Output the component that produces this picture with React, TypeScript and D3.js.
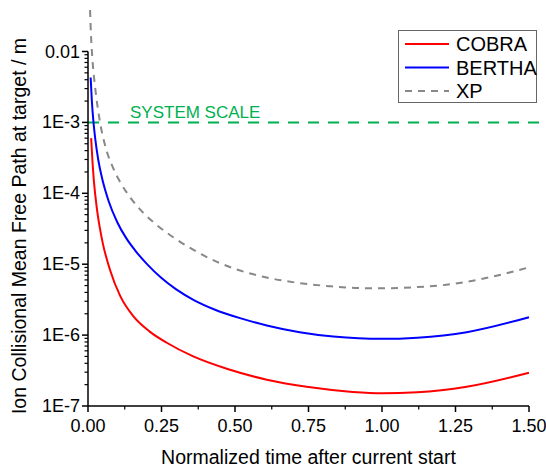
import React from "react";
import * as d3 from "d3";

// ---- data ----
const tCobra = [0.0107, 0.015, 0.02, 0.03, 0.04, 0.05, 0.075, 0.109, 0.154, 0.21, 0.268, 0.358, 0.472, 0.608, 0.75, 0.9, 1.0, 1.12, 1.288, 1.5];
const cobra = [6.0e-4, 2.9e-4, 1.5e-4, 6.2e-5, 3.3e-5, 2.0e-5, 8.3e-6, 3.6e-6, 1.85e-6, 1.12e-6, 7.8e-7, 5.0e-7, 3.35e-7, 2.35e-7, 1.85e-7, 1.58e-7, 1.51e-7, 1.56e-7, 1.87e-7, 2.95e-7];

const tBertha = [0.009, 0.013, 0.018, 0.025, 0.035, 0.05, 0.07, 0.1, 0.13, 0.16, 0.2, 0.25, 0.3, 0.36, 0.43, 0.52, 0.608, 0.72, 0.834, 0.92, 1.0, 1.12, 1.288, 1.5];
const bertha = [4.3e-3, 2.04e-3, 1.08e-3, 5.7e-4, 2.95e-4, 1.5e-4, 7.8e-5, 3.88e-5, 2.33e-5, 1.57e-5, 1.01e-5, 6.37e-6, 4.41e-6, 3.12e-6, 2.3e-6, 1.72e-6, 1.37e-6, 1.1e-6, 9.55e-7, 9.0e-7, 8.85e-7, 9.2e-7, 1.1e-6, 1.79e-6];

const tXp = [0.007, 0.01, 0.015, 0.024, 0.041, 0.061, 0.085, 0.107, 0.146, 0.19, 0.234, 0.3, 0.39, 0.494, 0.6, 0.71, 0.82, 0.925, 1.016, 1.12, 1.24, 1.37, 1.5];
const xp = [3.85e-2, 1.75e-2, 7.8e-3, 3.2e-3, 1.0e-3, 4.3e-4, 2.3e-4, 1.5e-4, 8.5e-5, 5.2e-5, 3.57e-5, 2.25e-5, 1.35e-5, 8.75e-6, 6.6e-6, 5.48e-6, 4.9e-6, 4.6e-6, 4.57e-6, 4.75e-6, 5.26e-6, 6.6e-6, 9.04e-6];

const systemScale = 1e-3;
const systemLabel = "SYSTEM SCALE";

const xTicks = [0, 0.25, 0.5, 0.75, 1.0, 1.25, 1.5];
const xTickLabels = ["0.00", "0.25", "0.50", "0.75", "1.00", "1.25", "1.50"];
const yTicks = [1e-2, 1e-3, 1e-4, 1e-5, 1e-6, 1e-7];
const yTickLabels = ["0.01", "1E-3", "1E-4", "1E-5", "1E-6", "1E-7"];

const seriesNames = ["COBRA", "BERTHA", "XP"];

const FONT = "Arial, 'Liberation Sans', sans-serif";

export default function App() {
  const W = 546, H = 469;
  const x = d3.scaleLinear().domain([0, 1.5]).range([88, 529]);
  const y = d3.scaleLog().domain([1e-7, 1e-2]).range([406, 51.5]);

  const line = d3
    .line<[number, number]>()
    .x((d) => x(d[0]))
    .y((d) => y(d[1]))
    .curve(d3.curveMonotoneX);

  const series = [
    { name: seriesNames[0], t: tCobra, v: cobra, color: "#ff0000", dash: undefined },
    { name: seriesNames[1], t: tBertha, v: bertha, color: "#0000ff", dash: undefined },
    { name: seriesNames[2], t: tXp, v: xp, color: "#888888", dash: "7,6" },
  ];

  const minorY: number[] = [];
  for (let e = -7; e < -2; e++) {
    for (let m = 2; m <= 9; m++) minorY.push(m * Math.pow(10, e));
  }
  const minorX: number[] = [];
  for (let i = 0; i < 6; i++) minorX.push(0.125 + i * 0.25);

  const x0 = x(0), y0 = y(1e-7);

  return (
    <svg
      width={W}
      height={H}
      style={{ position: "absolute", left: 0, top: 0, background: "#fff" }}
      fontFamily={FONT}
    >
      <rect x={0} y={0} width={W} height={H} fill="#fff" />
      {/* system scale */}
      <line
        x1={x0}
        x2={540}
        y1={y(systemScale)}
        y2={y(systemScale)}
        stroke="#00b050"
        strokeWidth={2}
        strokeDasharray="11,9"
      />
      <text x={130} y={y(systemScale) - 4} fontSize={17} fill="#00b050">
        {systemLabel}
      </text>

      {/* curves */}
      {series.map((s) => (
        <path
          key={s.name}
          d={line(s.t.map((t, i) => [t, s.v[i]] as [number, number])) || ""}
          fill="none"
          stroke={s.color}
          strokeWidth={2}
          strokeDasharray={s.dash}
        />
      ))}

      {/* axes */}
      <line x1={x0} x2={x0} y1={y(1e-2)} y2={y0} stroke="#000" strokeWidth={1.5} />
      <line x1={x0} x2={x(1.5)} y1={y0} y2={y0} stroke="#000" strokeWidth={1.5} />
      {yTicks.map((v, i) => (
        <g key={"yt" + i}>
          <line x1={x0 - 6} x2={x0} y1={y(v)} y2={y(v)} stroke="#000" strokeWidth={1.5} />
          <text
            x={x0 - 8}
            y={y(v)}
            textAnchor="end"
            dominantBaseline="central"
            fontSize={18}
            fill="#000"
          >
            {yTickLabels[i]}
          </text>
        </g>
      ))}
      {minorY.map((v, i) => (
        <line key={"ym" + i} x1={x0 - 3.5} x2={x0} y1={y(v)} y2={y(v)} stroke="#000" strokeWidth={1.2} />
      ))}
      {xTicks.map((v, i) => (
        <g key={"xt" + i}>
          <line x1={x(v)} x2={x(v)} y1={y0} y2={y0 + 6} stroke="#000" strokeWidth={1.5} />
          <text x={x(v)} y={y0 + 26} textAnchor="middle" fontSize={18} fill="#000">
            {xTickLabels[i]}
          </text>
        </g>
      ))}
      {minorX.map((v, i) => (
        <line key={"xm" + i} x1={x(v)} x2={x(v)} y1={y0} y2={y0 + 3.5} stroke="#000" strokeWidth={1.2} />
      ))}

      {/* axis titles */}
      <text x={(x0 + x(1.5)) / 2} y={464} textAnchor="middle" fontSize={19.5} fill="#000">
        Normalized time after current start
      </text>
      <text
        transform={`translate(26,226) rotate(-90)`}
        textAnchor="middle"
        fontSize={19.5}
        fill="#000"
      >
        Ion Collisional Mean Free Path at target / m
      </text>

      {/* legend */}
      <rect x={398.5} y={30.5} width={138} height={72} fill="#fff" stroke="#666" strokeWidth={1} />
      {series.map((s, i) => (
        <g key={"lg" + i}>
          <line
            x1={405}
            x2={449}
            y1={44 + i * 23.5}
            y2={44 + i * 23.5}
            stroke={s.color}
            strokeWidth={2}
            strokeDasharray={s.dash}
          />
          <text x={456} y={44 + i * 23.5} dominantBaseline="central" fontSize={20} fill="#000">
            {s.name}
          </text>
        </g>
      ))}
    </svg>
  );
}
